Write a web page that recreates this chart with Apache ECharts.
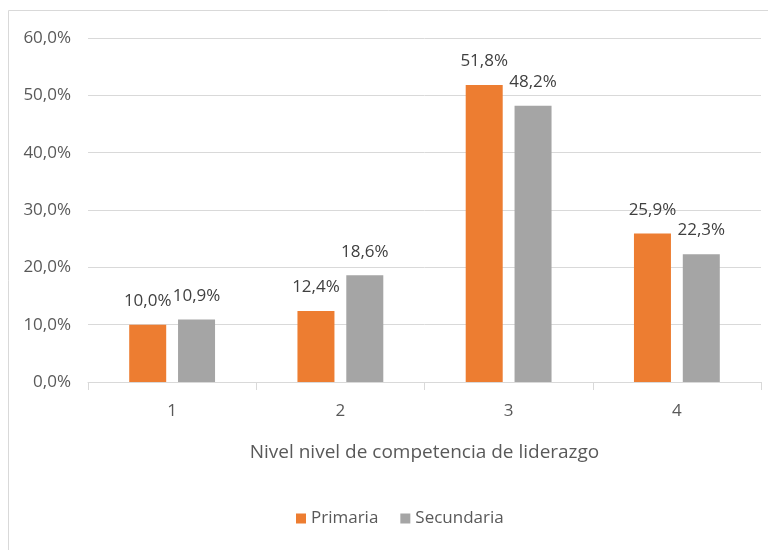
<!DOCTYPE html>
<html><head><meta charset="utf-8">
<script src="https://cdn.jsdelivr.net/npm/echarts@6/dist/echarts.min.js"></script>
<style>html,body{margin:0;padding:0;background:#fff}#c{width:768px;height:550px}</style>
</head><body><div id="c"></div>
<script>
const categories = ['1', '2', '3', '4'];
const primaria = [10.0, 12.4, 51.8, 25.9];
const secundaria = [10.9, 18.6, 48.2, 22.3];
const yTicks = [0, 10, 20, 30, 40, 50, 60];
const fmt = v => v.toFixed(1).replace('.', ',') + '%';
const font = 'Open Sans';
const chart = echarts.init(document.getElementById('c'));
chart.setOption({
  animation: false,
  textStyle: { fontFamily: font },
  graphic: [{ type: 'rect', shape: { x: 8.5, y: 10.5, width: 770, height: 560 }, style: { fill: 'none', stroke: '#d9d9d9', lineWidth: 1 } }],
  grid: { left: 88, right: 7, top: 38, bottom: 168 },
  legend: {
    top: 505, left: 291, itemWidth: 10, itemHeight: 10, itemGap: 22,
    icon: 'rect',
    textStyle: { color: '#595959', fontSize: 17, fontFamily: font },
    data: ['Primaria', 'Secundaria']
  },
  xAxis: {
    type: 'category', data: categories,
    name: 'Nivel nivel de competencia de liderazgo', nameLocation: 'middle', nameGap: 61,
    nameTextStyle: { color: '#595959', fontSize: 19, fontFamily: font },
    axisLine: { lineStyle: { color: '#d9d9d9' } },
    axisTick: { show: true, length: 8, lineStyle: { color: '#d9d9d9' } },
    axisLabel: { color: '#595959', fontSize: 17, margin: 21, fontFamily: font }
  },
  yAxis: {
    type: 'value', min: yTicks[0], max: yTicks[yTicks.length - 1], interval: 10,
    axisLine: { show: false }, axisTick: { show: false },
    splitLine: { lineStyle: { color: '#d9d9d9' } },
    axisLabel: { color: '#595959', fontSize: 17, margin: 17, formatter: v => fmt(v), fontFamily: font }
  },
  series: [
    { name: 'Primaria', type: 'bar', data: primaria, barWidth: 37, barGap: '32%',
      itemStyle: { color: '#ED7D31' },
      label: { show: true, position: 'top', distance: 15, color: '#404040', fontSize: 17, formatter: p => fmt(p.value), fontFamily: font } },
    { name: 'Secundaria', type: 'bar', data: secundaria, barWidth: 37,
      itemStyle: { color: '#A5A5A5' },
      label: { show: true, position: 'top', distance: 15, color: '#404040', fontSize: 17, formatter: p => fmt(p.value), fontFamily: font } }
  ]
});
</script></body></html>
